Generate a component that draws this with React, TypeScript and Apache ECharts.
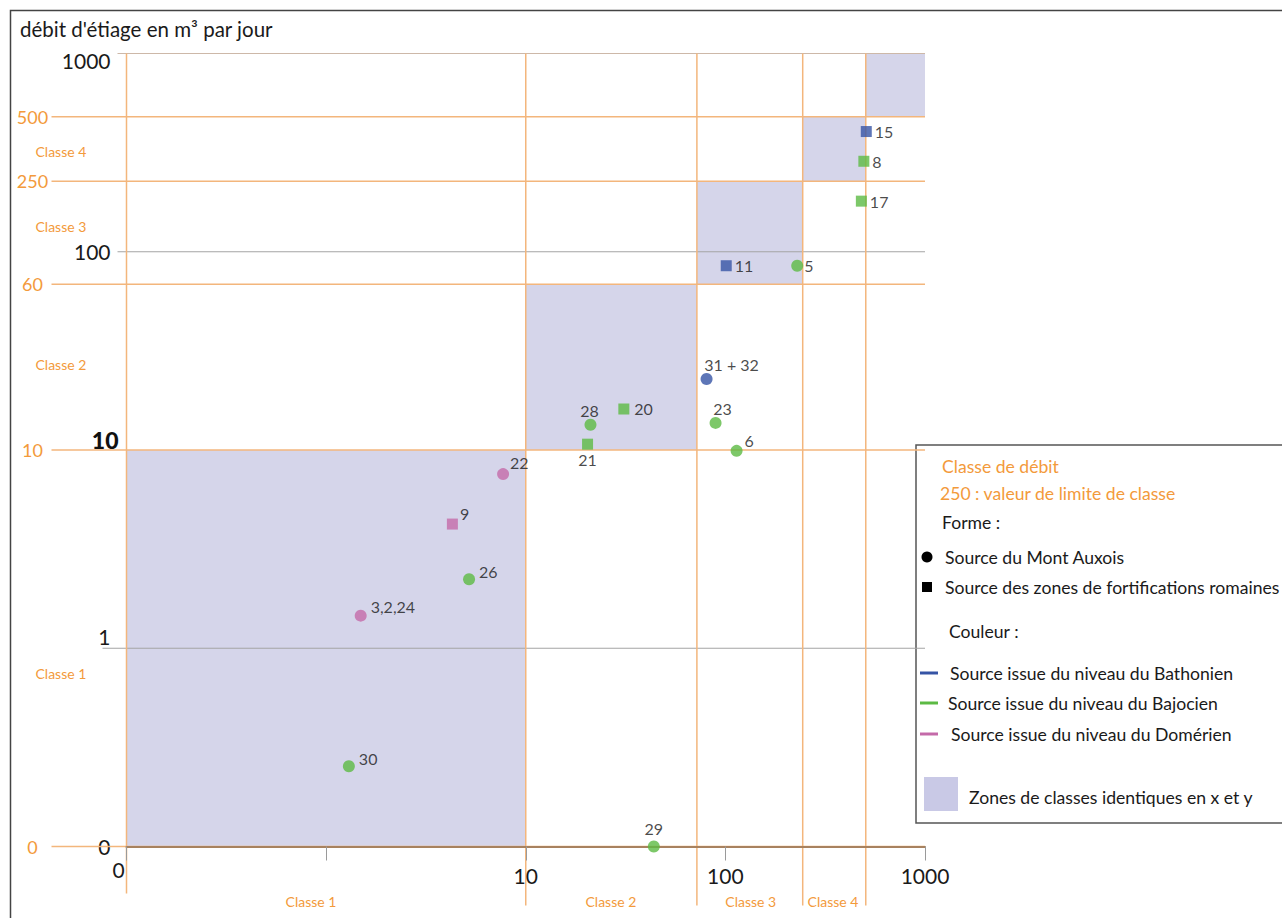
import React, { useEffect, useRef } from 'react';
import * as echarts from 'echarts';

// ---------- data ----------
const yBoundValues = [0.1, 10, 68.6, 227, 480];
const yBoundLabels = ['0', '10', '60', '250', '500'];
const xBoundValues = [0.1, 10, 72, 244, 505];
const greyLineValues = [1, 100, 1000];

const zoneX0 = [0.1, 10, 72, 244, 505];
const zoneX1 = [10, 72, 244, 505, 1000];
const zoneY0 = [0.1, 10, 68.6, 227, 480];
const zoneY1 = [10, 68.6, 227, 480, 1000];

const classNames = ['Classe 1', 'Classe 2', 'Classe 3', 'Classe 4'];
const yClassLabelValues = [0.75, 27, 134, 320];
const xClassLabelValues = [0.84, 26.7, 134, 346];

const pointIds = ['15', '8', '17', '11', '5', '31 + 32', '20', '28', '21', '23', '6', '22', '9', '26', '3,2,24', '30', '29'];
const pointX = [508, 494, 480, 101, 229, 80.5, 31, 21.1, 20.4, 89.3, 113.8, 7.7, 4.29, 5.2, 1.49, 1.3, 43.8];
const pointY = [404, 286, 180, 85, 85, 22.8, 16.1, 13.4, 10.7, 13.7, 9.9, 7.56, 4.23, 2.23, 1.46, 0.254, 0.1];
const pointShape = ['square', 'square', 'square', 'square', 'circle', 'circle', 'square', 'circle', 'square', 'circle', 'circle', 'circle', 'square', 'circle', 'circle', 'circle', 'circle'];
const pointLevel = ['Bathonien', 'Bajocien', 'Bajocien', 'Bathonien', 'Bajocien', 'Bathonien', 'Bajocien', 'Bajocien', 'Bajocien', 'Bajocien', 'Bajocien', 'Domérien', 'Domérien', 'Bajocien', 'Domérien', 'Bajocien', 'Bajocien'];

// ---------- styles ----------
const FONT = 'Lato, "Open Sans", sans-serif';
const ORANGE_TEXT = '#f39a3b';
const ORANGE_LINE = '#f3b67c';
const ZONE = '#d5d5ea';
const TEXT = '#1a1a1a';
const levelColor: Record<string, string> = {
  Bathonien: '#3654a5',
  Bajocien: '#5cba44',
  'Domérien': '#c46aa9',
};
const greyLineExt = [24, 9, 9];
const greyLineColor = ['#a5a5a5', '#a5a5a5', '#cdb8a8'];

const labelPlacement: Record<string, any> = {
  '31 + 32': { position: 'top', distance: 1, offset: [25, 0] },
  '28': { position: 'top', distance: 0, offset: [-1, 0] },
  '21': { position: 'bottom', distance: 2 },
  '23': { position: 'top', distance: 0, offset: [7, 0] },
  '29': { position: 'top', distance: 4 },
  '6': { position: 'right', distance: 2, offset: [0, -10] },
  '22': { position: 'right', distance: 1, offset: [0, -12] },
  '9': { position: 'right', distance: 2, offset: [0, -11] },
  '26': { position: 'right', distance: 4, offset: [0, -8] },
  '3,2,24': { position: 'right', distance: 4, offset: [0, -9] },
  '30': { position: 'right', distance: 4, offset: [0, -8] },
  '20': { position: 'right', distance: 5 },
  '5': { position: 'right', distance: 1 },
};

function buildOption() {
  const exp = (v: number) => Math.round(Math.log10(v));

  const points = pointIds.map((id, i) => {
    const sq = pointShape[i] === 'square';
    const pl = labelPlacement[id] || { position: 'right', distance: 3 };
    return {
      name: id,
      value: [pointX[i], pointY[i]],
      symbol: sq ? 'rect' : 'circle',
      symbolSize: sq ? 11 : 12,
      itemStyle: { color: levelColor[pointLevel[i]] },
      label: {
        show: true,
        formatter: id,
        color: TEXT,
        fontSize: 16,
        fontFamily: FONT,
        ...pl,
      },
    };
  });

  const legendText = (text: string, x: number, y: number, color = TEXT) => ({
    type: 'text',
    x,
    y,
    style: { text, fill: color, fontSize: 17.6, fontFamily: FONT, align: 'left', verticalAlign: 'middle' },
  });

  return {
    animation: false,
    backgroundColor: '#ffffff',
    title: {
      text: "débit d'étiage en m³ par jour",
      left: 15,
      top: 13,
      textStyle: { fontFamily: FONT, fontSize: 20.5, fontWeight: 'normal', color: TEXT },
    },
    grid: { left: 126.5, top: 53.5, width: 798.5, height: 793 },
    xAxis: {
      type: 'log',
      logBase: 10,
      min: 0.1,
      max: 1000,
      z: 3,
      axisLine: { show: true, onZero: false, lineStyle: { color: '#a8825f', width: 2 } },
      axisTick: { show: true, length: 14, lineStyle: { color: '#9a9a9a', width: 1 } },
      splitLine: { show: false },
      minorTick: { show: false },
      axisLabel: {
        margin: 12,
        formatter: (v: number) => {
          const e = exp(v);
          if (e === -1) return '{z|0}';
          if (e === 0) return '';
          return '{n|' + Math.pow(10, e) + '}';
        },
        rich: {
          n: { fontSize: 21, fontFamily: FONT, color: TEXT, padding: [6, 0, 0, 0] },
          z: { fontSize: 21, fontFamily: FONT, color: TEXT, padding: [0, 16, 0, 0] },
        },
      },
    },
    yAxis: {
      type: 'log',
      logBase: 10,
      min: 0.1,
      max: 1000,
      axisLine: { show: false },
      axisTick: { show: false },
      splitLine: { show: false },
      minorTick: { show: false },
      axisLabel: {
        margin: 8,
        formatter: (v: number) => {
          const e = exp(v);
          if (e === -1) return '{n|0}';
          if (e === 0) return '{u|1}';
          if (e === 1) return '{b|10}';
          if (e === 2) return '{n|100}';
          return '{d|1000}';
        },
        rich: {
          n: { fontSize: 21, fontFamily: FONT, color: TEXT, padding: [0, 8, 0, 0] },
          u: { fontSize: 21, fontFamily: FONT, color: TEXT, padding: [0, 8, 24, 0] },
          d: { fontSize: 21, fontFamily: FONT, color: TEXT, padding: [14, 8, 0, 0] },
          b: { fontSize: 23, fontWeight: 900, fontFamily: FONT, color: '#111', padding: [0, 0, 20, 0] },
        },
      },
    },
    series: [
      {
        type: 'custom',
        name: 'zones',
        z: 1,
        silent: true,
        data: zoneX0.map((x0, i) => [x0, zoneY0[i], zoneX1[i], zoneY1[i]]),
        renderItem: (params: any, api: any) => {
          const p0 = api.coord([api.value(0), api.value(1)]);
          const p1 = api.coord([api.value(2), api.value(3)]);
          return {
            type: 'rect',
            shape: { x: p0[0], y: p1[1], width: p1[0] - p0[0], height: p0[1] - p1[1] },
            style: { fill: ZONE },
          };
        },
      },
      {
        type: 'custom',
        name: 'greyLines',
        z: 2,
        silent: true,
        data: greyLineValues.map((v) => [0.1, v]),
        renderItem: (params: any, api: any) => {
          const v = api.value(1);
          const l = api.coord([0.1, v]);
          const r = api.coord([1000, v]);
          return {
            type: 'line',
            shape: { x1: l[0] - greyLineExt[params.dataIndex], y1: l[1], x2: r[0], y2: r[1] },
            style: { stroke: greyLineColor[params.dataIndex], lineWidth: 1.2 },
          };
        },
      },
      {
        type: 'custom',
        name: 'yBounds',
        z: 3,
        silent: true,
        data: yBoundValues.map((v) => [0.1, v]),
        renderItem: (params: any, api: any) => {
          const v = api.value(1);
          const l = api.coord([0.1, v]);
          const r = api.coord([1000, v]);
          return {
            type: 'group',
            children: [
              {
                type: 'line',
                shape: { x1: l[0] - 75, y1: l[1], x2: r[0], y2: r[1] },
                style: { stroke: ORANGE_LINE, lineWidth: 1.5 },
              },
              {
                type: 'text',
                x: l[0] - 94,
                y: l[1],
                style: {
                  text: yBoundLabels[params.dataIndex],
                  fill: ORANGE_TEXT,
                  fontSize: 18,
                  fontFamily: FONT,
                  align: 'center',
                  verticalAlign: 'middle',
                },
              },
            ],
          };
        },
      },
      {
        type: 'custom',
        name: 'xBounds',
        z: 3,
        silent: true,
        data: xBoundValues.map((v) => [v, 1000]),
        renderItem: (params: any, api: any) => {
          const v = api.value(0);
          const t = api.coord([v, 1000]);
          const b = api.coord([v, 0.1]);
          const ext = params.dataIndex === 0 ? 47 : 59;
          return {
            type: 'line',
            shape: { x1: t[0], y1: t[1], x2: b[0], y2: b[1] + ext },
            style: { stroke: ORANGE_LINE, lineWidth: 1.5 },
          };
        },
      },
      {
        type: 'custom',
        name: 'yClasses',
        z: 3,
        silent: true,
        data: yClassLabelValues.map((v) => [0.1, v]),
        renderItem: (params: any, api: any) => {
          const p = api.coord([0.1, api.value(1)]);
          return {
            type: 'text',
            x: p[0] - 91,
            y: p[1],
            style: {
              text: classNames[params.dataIndex],
              fill: ORANGE_TEXT,
              fontSize: 14,
              fontFamily: FONT,
              align: 'left',
              verticalAlign: 'middle',
            },
          };
        },
      },
      {
        type: 'custom',
        name: 'xClasses',
        z: 3,
        silent: true,
        data: xClassLabelValues.map((v) => [v, 0.1]),
        renderItem: (params: any, api: any) => {
          const p = api.coord([api.value(0), 0.1]);
          return {
            type: 'text',
            x: p[0],
            y: p[1] + 55,
            style: {
              text: classNames[params.dataIndex],
              fill: ORANGE_TEXT,
              fontSize: 14,
              fontFamily: FONT,
              align: 'center',
              verticalAlign: 'middle',
            },
          };
        },
      },
      {
        type: 'scatter',
        name: 'sources',
        z: 5,
        clip: false,
        data: points,
      },
    ],
    graphic: [
      {
        type: 'rect',
        z: 100,
        silent: true,
        shape: { x: 10.5, y: 10.5, width: 1320, height: 940 },
        style: { fill: 'none', stroke: '#444', lineWidth: 1.5 },
      },
      {
        type: 'group',
        z: 90,
        silent: true,
        children: [
          {
            type: 'rect',
            shape: { x: 916, y: 445, width: 420, height: 378 },
            style: { fill: '#ffffff', stroke: '#555', lineWidth: 1.5 },
          },
          legendText('Classe de débit', 942, 466, ORANGE_TEXT),
          legendText('250 : valeur de limite de classe', 940, 493, ORANGE_TEXT),
          legendText('Forme :', 942, 522),
          { type: 'circle', shape: { cx: 927, cy: 557, r: 5.5 }, style: { fill: '#000' } },
          legendText('Source du Mont Auxois', 945, 557),
          { type: 'rect', shape: { x: 922, y: 582, width: 10, height: 10 }, style: { fill: '#000' } },
          legendText('Source des zones de fortifications romaines', 945, 587),
          legendText('Couleur :', 949, 631),
          { type: 'line', shape: { x1: 920, y1: 673, x2: 938, y2: 673 }, style: { stroke: levelColor.Bathonien, lineWidth: 3 } },
          legendText('Source issue du niveau du Bathonien', 950, 673),
          { type: 'line', shape: { x1: 920, y1: 703, x2: 938, y2: 703 }, style: { stroke: levelColor.Bajocien, lineWidth: 3 } },
          legendText('Source issue du niveau du Bajocien', 948, 703),
          { type: 'line', shape: { x1: 920, y1: 734, x2: 938, y2: 734 }, style: { stroke: levelColor['Domérien'], lineWidth: 3 } },
          legendText('Source issue du niveau du Domérien', 951, 734),
          { type: 'rect', shape: { x: 924, y: 777, width: 34, height: 34 }, style: { fill: '#c9c9e6' } },
          legendText('Zones de classes identiques en x et y', 969, 797),
        ],
      },
    ],
  };
}

export default function App() {
  const ref = useRef<HTMLDivElement>(null);
  useEffect(() => {
    if (!ref.current) return;
    const chart = echarts.init(ref.current, null, { renderer: 'svg' });
    chart.setOption(buildOption() as any);
    return () => chart.dispose();
  }, []);
  return (
    <div
      ref={ref}
      style={{ position: 'absolute', left: 0, top: 0, width: 1282, height: 918, background: '#fff', overflow: 'hidden' }}
    />
  );
}
